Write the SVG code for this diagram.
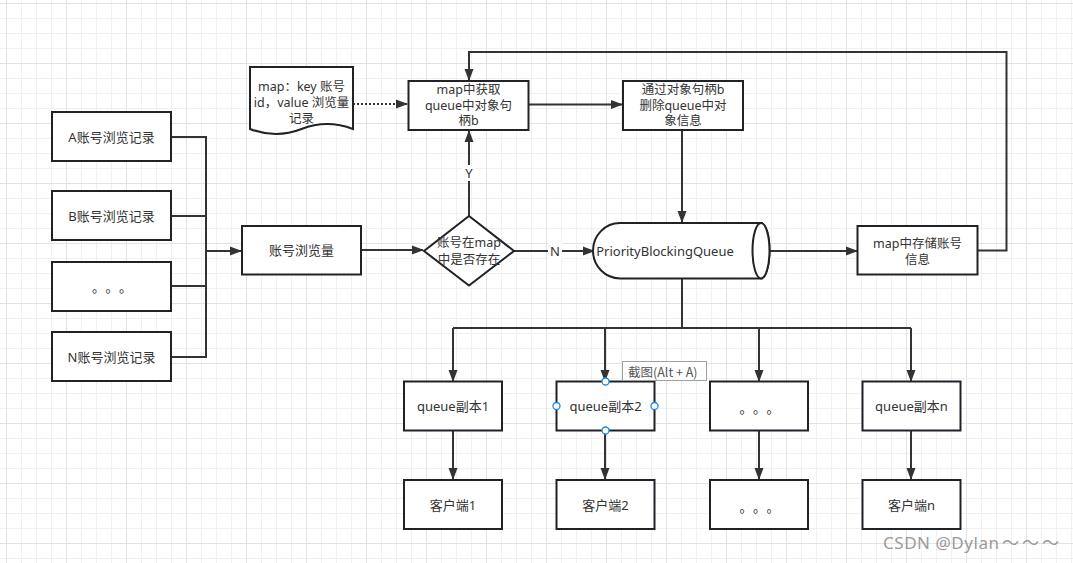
<svg xmlns="http://www.w3.org/2000/svg" width="1073" height="563" viewBox="0 0 1073 563">
<style>
.box{fill:#fff;stroke:#1f2328;stroke-width:2}
.t{font-family:"Noto Sans","Noto Sans CJK SC",sans-serif;font-size:13px;fill:#333;text-anchor:middle;dominant-baseline:central}
.s{font-size:12.5px}
.d{font-family:"Noto Sans CJK SC",sans-serif;font-size:13px;fill:#333;dominant-baseline:central}
.c{fill:none;stroke:#333;stroke-width:2}
.lbl{fill:#fff;stroke:none}
.h{fill:#fff;stroke:#1e88e5;stroke-width:1.3}
.w{font-family:"Noto Sans","Noto Sans CJK SC",sans-serif;font-size:17px;fill:#9a9a9a}
</style>
<defs>
<pattern id="grid" patternUnits="userSpaceOnUse" x="6" y="3" width="60" height="60">
<path d="M15.5,0V60M30.5,0V60M45.5,0V60M0,15.5H60M0,30.5H60M0,45.5H60" stroke="#f0f0f0" stroke-width="1" fill="none"/>
<path d="M0.5,0V60M0,0.5H60" stroke="#e3e3e3" stroke-width="1" fill="none"/>
</pattern>
<marker id="arr" viewBox="0 0 12 10" refX="11" refY="5" markerWidth="12" markerHeight="10" markerUnits="userSpaceOnUse" orient="auto">
<path d="M0,0.5 L12,5 L0,9.5 Z" fill="#333"/>
</marker>
</defs>
<rect width="1073" height="563" fill="#fff"/>
<rect width="1073" height="563" fill="url(#grid)"/>

<g id="connectors">
<path class="c" d="M171,137H206V357H171M171,216H206M171,286H206"/>
<path class="c" d="M206,251H241" marker-end="url(#arr)"/>
<path class="c" d="M361,250H423" marker-end="url(#arr)"/>
<path class="c" d="M514,251H594" marker-end="url(#arr)"/>
<rect class="lbl" x="548" y="243" width="14" height="16"/>
<text class="t" x="555" y="251">N</text>
<path class="c" d="M469,216V131" marker-end="url(#arr)"/>
<rect class="lbl" x="462" y="165" width="14" height="16"/>
<text class="t" x="469" y="173">Y</text>
<path class="c" d="M353,104H407" stroke-dasharray="2,2" marker-end="url(#arr)"/>
<path class="c" d="M528,104.5H622" marker-end="url(#arr)"/>
<path class="c" d="M682,130V222" marker-end="url(#arr)"/>
<path class="c" d="M770,251H857" marker-end="url(#arr)"/>
<path class="c" d="M977,250.5H1006.5V52H469V80" marker-end="url(#arr)"/>
<path class="c" d="M682,279V328M453,328H911"/>
<path class="c" d="M453,328V381" marker-end="url(#arr)"/>
<path class="c" d="M605,328V381" marker-end="url(#arr)"/>
<path class="c" d="M759,328V381" marker-end="url(#arr)"/>
<path class="c" d="M911,328V381" marker-end="url(#arr)"/>
<path class="c" d="M453,431V479" marker-end="url(#arr)"/>
<path class="c" d="M605,431V479" marker-end="url(#arr)"/>
<path class="c" d="M759,431V479" marker-end="url(#arr)"/>
<path class="c" d="M911,431V479" marker-end="url(#arr)"/>
</g>

<g id="nodeA"><rect class="box" x="52" y="112" width="119" height="49"/><text class="t" x="111.5" y="137">A账号浏览记录</text></g>
<g id="nodeB"><rect class="box" x="52" y="191" width="119" height="49"/><text class="t" x="111.5" y="216">B账号浏览记录</text></g>
<g id="nodeDots"><rect class="box" x="52" y="262" width="119" height="49"/><text class="d" x="92 105.5 119" y="286">。。。</text></g>
<g id="nodeN"><rect class="box" x="52" y="332" width="119" height="49"/><text class="t" x="111.5" y="357">N账号浏览记录</text></g>

<g id="nodeViews"><rect class="box" x="242" y="226" width="119" height="48.5"/><text class="t" x="301.5" y="250">账号浏览量</text></g>

<g id="nodeDecision"><path class="box" d="M469,216L514,251L469,285.5L424,251Z"/>
<text class="t s" x="469" y="242">账号在map</text><text class="t s" x="469" y="259.5">中是否存在</text></g>

<g id="nodeDoc"><path class="box" d="M250,67H353V129Q327,119 301.5,129Q276,139 250,129Z"/>
<text class="t s" x="301.5" y="86">map：key 账号</text><text class="t s" x="301.5" y="102.5">id，value 浏览量</text><text class="t s" x="301.5" y="118.5">记录</text></g>

<g id="nodeGet"><rect class="box" x="408.5" y="81" width="120" height="49"/>
<text class="t s" x="468.5" y="89.5">map中获取</text><text class="t s" x="468.5" y="105">queue中对象句</text><text class="t s" x="468.5" y="120.5">柄b</text></g>

<g id="nodeDel"><rect class="box" x="623" y="81" width="120" height="49"/>
<text class="t s" x="683" y="89">通过对象句柄b</text><text class="t s" x="683" y="105">删除queue中对</text><text class="t s" x="683" y="120.5">象信息</text></g>

<g id="nodeQueue"><path class="box" d="M620,223H761A8.5,27.7 0 0 1 761,278.4H620A27,27.7 0 0 1 620,223Z"/>
<ellipse class="box" cx="761" cy="250.7" rx="8.5" ry="27.7"/>
<text class="t" x="665" y="251">PriorityBlockingQueue</text></g>

<g id="nodeStore"><rect class="box" x="857.5" y="226" width="120" height="48.5"/>
<text class="t s" x="917.5" y="243">map中存储账号</text><text class="t s" x="917.5" y="259.5">信息</text></g>

<g id="nodeQ1"><rect class="box" x="404" y="381.5" width="98" height="49"/><text class="t" x="453" y="406">queue副本1</text></g>
<g id="nodeQ2"><rect class="box" x="556.5" y="381.5" width="98" height="49"/><text class="t" x="605.5" y="406">queue副本2</text></g>
<g id="nodeQ3"><rect class="box" x="710" y="381.5" width="98" height="49"/><text class="d" x="739.5 753 766.5" y="407">。。。</text></g>
<g id="nodeQn"><rect class="box" x="862.5" y="381.5" width="98" height="49"/><text class="t" x="911.5" y="406">queue副本n</text></g>

<g id="nodeC1"><rect class="box" x="404" y="480" width="98" height="49"/><text class="t" x="453" y="505">客户端1</text></g>
<g id="nodeC2"><rect class="box" x="556.5" y="480" width="98" height="49"/><text class="t" x="605.5" y="505">客户端2</text></g>
<g id="nodeC3"><rect class="box" x="710" y="480" width="98" height="49"/><text class="d" x="739.5 753 766.5" y="506">。。。</text></g>
<g id="nodeCn"><rect class="box" x="862.5" y="480" width="98" height="49"/><text class="t" x="911.5" y="505">客户端n</text></g>

<g id="selection">
<circle class="h" cx="605.5" cy="381.5" r="3.5"/>
<circle class="h" cx="556.5" cy="406" r="3.5"/>
<circle class="h" cx="654.5" cy="406" r="3.5"/>
<circle class="h" cx="605.5" cy="430.5" r="3.5"/>
</g>

<g id="tooltip">
<rect x="622.5" y="361.5" width="84" height="19" fill="#fff" stroke="#a0a0a0" stroke-width="1"/>
<text x="628" y="371" font-family="'Noto Sans CJK SC','Noto Sans',sans-serif" font-size="12.5" fill="#555" dominant-baseline="central">截图(Alt + A)</text>
</g>

<text class="w" x="883" y="549" textLength="116" lengthAdjust="spacing">CSDN @Dylan</text>
<text class="w" x="1002 1022 1042" y="549">～～～</text>
</svg>
